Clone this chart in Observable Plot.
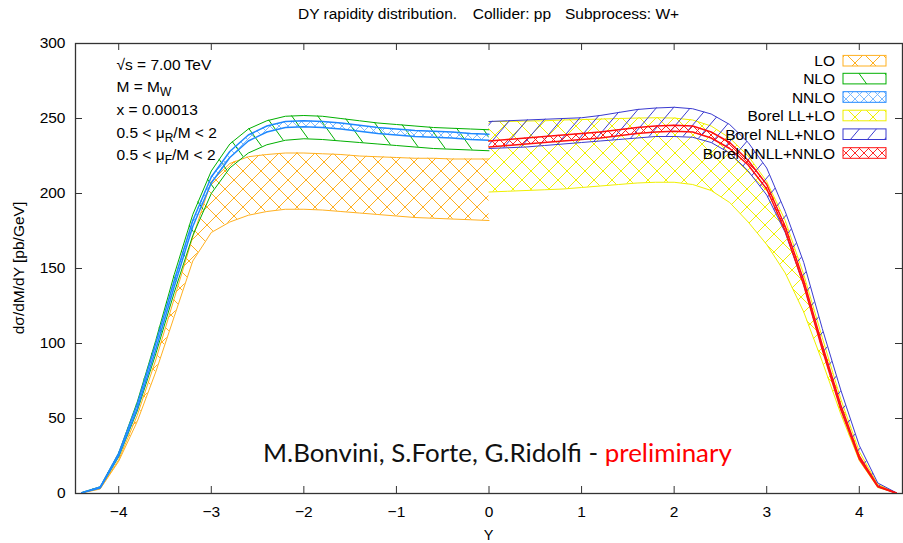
<!DOCTYPE html>
<html><head><meta charset="utf-8">
<script src="https://cdn.jsdelivr.net/npm/d3@7"></script>
<script src="https://cdn.jsdelivr.net/npm/@observablehq/plot@0.6"></script>
<style>body{margin:0;background:#fff} svg{display:block}</style>
</head><body><div id="chart"></div>
<script>
// ---------- data ----------
const Yneg = [-4.4,-4.2,-4.0,-3.8,-3.6,-3.4,-3.2,-3.0,-2.8,-2.6,-2.4,-2.2,-2.0,-1.8,-1.6,-1.4,-1.2,-1.0,-0.8,-0.6,-0.4,-0.2,0.0];
const LO_hi   = [0.5,3.3,22.5,52,89,130,171,208,220,224.5,226,227,227,226.5,226,225,224.5,224,223.5,223.5,223,223,223];
const LO_lo   = [0.3,3.0,21.5,48,81,118,155,174,181,185.5,188,189.5,189.5,189,188,187,186,185,184,183.5,183,182.5,182];
const NLO_hi  = [0.6,4.5,27,61,102,146,186,215,233,243,248.5,251.5,252,251.5,250,248.5,247,246,245,244,243.5,243,242.5];
const NLO_lo  = [0.5,3.8,24.5,55,93,134,172,200,217,227,232.5,235.5,236.5,236,235,234,233,232,231,230,229.5,229,228.5];
const NNLO_hi = [0.6,4.3,26.8,59.5,100,142,182,211,228,239,245,248,248.5,248,247,245.5,244,243,242,241.5,241,240,239.5];
const NNLO_lo = [0.4,3.7,25.2,56.5,96,138,178,207,224,235,241,244,244.5,244,243,241.5,240,239,238,237.5,237,236,235.5];

const Ypos = [0.0,0.2,0.4,0.6,0.8,1.0,1.2,1.4,1.6,1.8,2.0,2.2,2.4,2.6,2.8,3.0,3.2,3.4,3.6,3.8,4.0,4.2,4.4];
const LL_hi   = [248,248,248.3,248.5,249,249.3,249.6,250,250.3,250.5,250.3,249,245,237,225,208,182,146,104,63,28,6,0.4];
const LL_lo   = [201,201.5,202,202.5,203,204,205,206,207,207.5,207.5,206,202,194,181,166,147,121,88,53,22,4,0.3];
const NLL_hi  = [248,248.5,249,249.5,250,250.5,252,254,256,257,257.5,256.5,253,246,234,217,188,154,110,69,32,7,0.5];
const NLL_lo  = [230,230.5,231,232,233,234,235,236,237,238,238,237.5,234,227,215,199,174,139,97,57,24,4.5,0.3];
const NNLL_hi = [235,236,237,238,239,240,241,242.5,244,245,245.5,245,241,234,222,206,178,142,99,59,25,5,0.3];
const NNLL_lo = [231,232,233,234,235,236,237,238.5,240,241,241.5,241,237,230,219,203,175,139,96,56,23,4.5,0.2];

const xTicks = [-4,-3,-2,-1,0,1,2,3,4];
const yTicks = [0,50,100,150,200,250,300];
const legendLabels = ["LO","NLO","NNLO","Borel LL+LO","Borel NLL+NLO","Borel NNLL+NNLO"];
const titleParts = ["DY rapidity distribution.", "Collider: pp", "Subprocess: W+"];
const colors = {LO:"#ffb020", NLO:"#00b000", NNLO:"#1e88ff", LL:"#f0f000", NLL:"#3a3ad0", NNLL:"#ff1010"};

const left = Yneg.map((Y,i)=>({Y, LOh:LO_hi[i], LOl:LO_lo[i], NLOh:NLO_hi[i], NLOl:NLO_lo[i], NNLOh:NNLO_hi[i], NNLOl:NNLO_lo[i]}));
const right = Ypos.map((Y,i)=>({Y, LLh:LL_hi[i], LLl:LL_lo[i], NLLh:NLL_hi[i], NLLl:NLL_lo[i], NNLLh:NNLL_hi[i], NNLLl:NNLL_lo[i]}));

const FONT = "'Liberation Sans', Arial, Helvetica, sans-serif";
const FS = 15.5;

function band(data, hi, lo, color, pat, sw) {
  return [
    Plot.areaY(data, {x:"Y", y1:lo, y2:hi, fill:`url(#${pat})`, curve:"linear"}),
    Plot.lineY(data, {x:"Y", y:hi, stroke:color, strokeWidth:sw, curve:"linear"}),
    Plot.lineY(data, {x:"Y", y:lo, stroke:color, strokeWidth:sw, curve:"linear"})
  ];
}

const W = 903, H = 543, mL = 75, mR = 1, mT = 43, mB = 50;
const plot = Plot.plot({
  width: W, height: H,
  marginLeft: mL, marginRight: mR, marginTop: mT, marginBottom: mB,
  style: {fontFamily: FONT, fontSize: FS + "px", background: "#fff", color: "#000"},
  x: {domain: [-4.4668, 4.4668]},
  y: {domain: [0, 300]},
  marks: [
    ...band(left, "LOh", "LOl", colors.LO, "pLO", 1),
    ...band(left, "NLOh", "NLOl", colors.NLO, "pNLO", 1),
    ...band(left, "NNLOh", "NNLOl", colors.NNLO, "pNNLO", 1.5),
    ...band(right, "LLh", "LLl", colors.LL, "pLL", 1),
    ...band(right, "NLLh", "NLLl", colors.NLL, "pNLL", 1),
    ...band(right, "NNLLh", "NNLLl", colors.NNLL, "pNNLL", 1.5),
    Plot.frame({stroke:"#333", strokeWidth:1.3}),
    Plot.tickX(xTicks, {x:d=>d, stroke:"#333", insetTop: H-mT-mB-7}),
    Plot.tickX(xTicks, {x:d=>d, stroke:"#333", insetBottom: H-mT-mB-7}),
    Plot.tickY(yTicks, {y:d=>d, stroke:"#333", insetRight: W-mL-mR-7}),
    Plot.tickY(yTicks, {y:d=>d, stroke:"#333", insetLeft: W-mL-mR-7}),
    Plot.axisX(xTicks, {tickSize:0, tickPadding:12, fontSize:FS, label:null}),
    Plot.axisY(yTicks, {tickSize:0, tickPadding:10, fontSize:FS, label:null}),
  ]
});

const svg = d3.select(plot);
// ---------- patterns ----------
const defs = svg.insert("defs", ":first-child");
function cross(id, color, P, sw) {
  defs.append("pattern").attr("id", id).attr("patternUnits","userSpaceOnUse")
    .attr("width", P).attr("height", P)
    .append("path").attr("d", `M-1,-1L${P+1},${P+1}M-1,${P+1}L${P+1},-1`)
    .attr("stroke", color).attr("stroke-width", sw).attr("fill","none");
}
function hatch(id, color, P, Hh, back, sw) {
  const d = back
    ? `M${-P},${-Hh}L${2*P},${2*Hh}M0,${-Hh}L${2*P},${Hh}M${-P},0L${P},${2*Hh}`
    : `M${-P},${2*Hh}L${2*P},${-Hh}M0,${2*Hh}L${2*P},0M${-P},${Hh}L${P},${-Hh}`;
  defs.append("pattern").attr("id", id).attr("patternUnits","userSpaceOnUse")
    .attr("width", P).attr("height", Hh)
    .append("path").attr("d", d)
    .attr("stroke", color).attr("stroke-width", sw).attr("fill","none");
}
cross("pLO", colors.LO, 18, 1);
cross("pLL", colors.LL, 18, 1);
cross("pNNLO", "#6fb3ff", 9, 0.9);
cross("pNNLL", colors.NNLL, 9, 0.9);
hatch("pNLO", colors.NLO, 26, 36, true, 1);
hatch("pNLL", colors.NLL, 17, 20, false, 1);

// ---------- texts ----------
const g = svg.append("g").style("font-family", FONT).attr("text-anchor", "start").attr("font-size", FS);
const title = g.append("text").attr("y", 19);
[298, 472.7, 565].forEach((x, i) => title.append("tspan").attr("x", x).text(titleParts[i]));
g.append("text").attr("x", mL + (W-mL-mR)/2).attr("y", 539.5).attr("text-anchor","middle")
  .attr("font-size", 14.5).text("Y");
g.append("text").attr("transform", `translate(24,${mT + (H-mT-mB)/2}) rotate(-90)`)
  .attr("text-anchor","middle").text("dσ/dM/dY [pb/GeV]");

// annotation block
const ann = g.append("g");
const annX = 116.5, annY0 = 69.5, annDY = 22.7;
ann.append("text").attr("x", annX).attr("y", annY0).text("√s = 7.00 TeV");
let t = ann.append("text").attr("x", annX).attr("y", annY0 + annDY);
t.append("tspan").text("M = M");
t.append("tspan").attr("font-size", 12).attr("dy", 4).text("W");
ann.append("text").attr("x", annX).attr("y", annY0 + 2*annDY).text("x = 0.00013");
t = ann.append("text").attr("x", annX).attr("y", annY0 + 3*annDY);
t.append("tspan").text("0.5 < μ");
t.append("tspan").attr("font-size", 12).attr("dy", 4).text("R");
t.append("tspan").attr("dy", -4).text("/M < 2");
t = ann.append("text").attr("x", annX).attr("y", annY0 + 4*annDY);
t.append("tspan").text("0.5 < μ");
t.append("tspan").attr("font-size", 12).attr("dy", 4).text("F");
t.append("tspan").attr("dy", -4).text("/M < 2");

// legend
const legPats = ["pLO","pNLO","pNNLO","pLL","pNLL","pNNLL"];
const legCols = [colors.LO, colors.NLO, colors.NNLO, colors.LL, colors.NLL, colors.NNLL];
const legY = [60.7, 78.6, 97, 115.5, 134.2, 153];
const leg = g.append("g");
legendLabels.forEach((lab, i) => {
  leg.append("text").attr("x", 835).attr("y", legY[i] + 5.5).attr("text-anchor","end").text(lab);
  leg.append("rect").attr("x", 843).attr("y", legY[i]-5.3).attr("width", 43).attr("height", 10.6)
    .attr("fill", "#fff").attr("stroke", "none");
  leg.append("rect").attr("x", 843).attr("y", legY[i]-5.3).attr("width", 43).attr("height", 10.6)
    .attr("fill", `url(#${legPats[i]})`).attr("stroke", legCols[i]).attr("stroke-width", 1);
});

// watermark
const wm = g.append("text").attr("x", 263).attr("y", 462).attr("font-size", 26)
  .attr("text-anchor", "start")
  .style("font-family", "Lato, 'DejaVu Sans', sans-serif").attr("fill", "#111");
wm.append("tspan").text("M.Bonvini, S.Forte, G.Ridolfi - ");
wm.append("tspan").attr("fill", "#ff0000").text("preliminary");

document.getElementById("chart").appendChild(plot);
// fit watermark width to the reference (263 .. 732)
const wlen = wm.node().getComputedTextLength();
if (wlen > 0) wm.attr("font-size", 26 * 469 / wlen);
</script></body></html>
